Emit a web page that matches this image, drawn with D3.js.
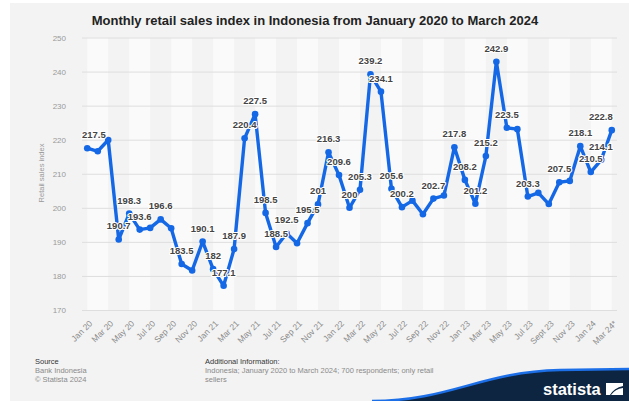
<!DOCTYPE html>
<html>
<head>
<meta charset="utf-8">
<script src="https://cdn.jsdelivr.net/npm/d3@7/dist/d3.min.js"></script>
<style>
  html, body { margin: 0; padding: 0; background: #ffffff; }
  svg { display: block; font-family: "Liberation Sans", Arial, sans-serif; }
</style>
</head>
<body>
<svg id="chart" width="629" height="401"></svg>
<script>
// Monthly retail sales index, Jan 2020 – Mar 2024
const months = [
  "Jan 20","Feb 20","Mar 20","Apr 20","May 20","Jun 20","Jul 20","Aug 20","Sep 20","Oct 20","Nov 20","Dec 20",
  "Jan 21","Feb 21","Mar 21","Apr 21","May 21","Jun 21","Jul 21","Aug 21","Sep 21","Oct 21","Nov 21","Dec 21",
  "Jan 22","Feb 22","Mar 22","Apr 22","May 22","Jun 22","Jul 22","Aug 22","Sep 22","Oct 22","Nov 22","Dec 22",
  "Jan 23","Feb 23","Mar 23","Apr 23","May 23","Jun 23","Jul 23","Aug 23","Sept 23","Oct 23","Nov 23","Dec 23",
  "Jan 24","Feb 24","Mar 24*"
];
const salesIndex = [
  217.5, 216.6, 219.9, 190.7, 198.3, 193.6, 194.1, 196.6, 194.0, 183.5, 181.6, 190.1,
  182.0, 177.1, 187.9, 220.4, 227.5, 198.5, 188.5, 192.5, 189.6, 195.5, 201.0, 216.3,
  209.6, 200.0, 205.3, 239.2, 234.1, 205.6, 200.2, 202.1, 198.1, 202.7, 203.6, 217.8,
  208.2, 201.2, 215.2, 242.9, 223.5, 223.1, 203.3, 204.4, 201.1, 207.5, 207.9, 218.1,
  210.5, 214.1, 222.8
];
// months whose value is printed next to the marker
const labelledMonths = [
  "Jan 20","Apr 20","May 20","Jun 20","Aug 20","Oct 20","Dec 20","Jan 21","Feb 21","Mar 21","Apr 21","May 21",
  "Jun 21","Jul 21","Aug 21","Oct 21","Nov 21","Dec 21","Jan 22","Feb 22","Mar 22","Apr 22","May 22","Jun 22",
  "Jul 22","Oct 22","Dec 22","Jan 23","Feb 23","Mar 23","Apr 23","May 23","Jul 23","Oct 23","Dec 23","Jan 24",
  "Feb 24","Mar 24*"
];
const xTickLabels = [
  "Jan 20","Mar 20","May 20","Jul 20","Sep 20","Nov 20","Jan 21","Mar 21","May 21","Jul 21","Sep 21","Nov 21",
  "Jan 22","Mar 22","May 22","Jul 22","Sep 22","Nov 22","Jan 23","Mar 23","May 23","Jul 23","Sept 23","Nov 23",
  "Jan 24","Mar 24*"
];
const yTicks = [170, 180, 190, 200, 210, 220, 230, 240, 250];

const data = months.map((m, i) => ({ month: m, value: salesIndex[i] }));

const svg = d3.select("#chart");
const W = 629, H = 401;
const plot = { left: 82, right: 617, top: 37.5, bottom: 310 };

// card background
svg.append("rect").attr("x", 10).attr("y", 3).attr("width", W - 10).attr("height", H - 3).attr("fill", "#f3f3f3");

const x = d3.scalePoint().domain(months).range([plot.left, plot.right]).padding(0.5);
const y = d3.scaleLinear().domain([170, 250]).range([plot.bottom, plot.top]);

// alternating column shading, two months wide
const bandStarts = months.filter((m, i) => i % 4 === 0 && i + 2 < months.length);
svg.append("g").selectAll("rect").data(bandStarts).join("rect")
  .attr("x", d => x(d))
  .attr("y", plot.top)
  .attr("width", d => x(months[months.indexOf(d) + 2]) - x(d))
  .attr("height", plot.bottom - plot.top)
  .attr("fill", "#fafafa");

// horizontal grid + y tick labels
const yAxis = d3.axisLeft(y).tickValues(yTicks).tickSize(-(plot.right - plot.left)).tickPadding(16).tickFormat(d3.format("d"));
const gy = svg.append("g").attr("transform", `translate(${plot.left},0)`).call(yAxis);
gy.select(".domain").remove();
gy.selectAll(".tick line").attr("stroke", "#dedede").attr("stroke-width", 1);
gy.selectAll(".tick text").attr("fill", "#9a9a9a").attr("font-size", 8).attr("font-family", "Liberation Sans, Arial, sans-serif");

// x tick labels, rotated
const xAxis = d3.axisBottom(x).tickValues(xTickLabels).tickSize(0).tickPadding(0);
const gx = svg.append("g").attr("transform", `translate(0,${plot.bottom})`).call(xAxis);
gx.select(".domain").remove();
gx.selectAll(".tick text")
  .attr("fill", "#8a8a8a").attr("font-size", 8.5).attr("font-family", "Liberation Sans, Arial, sans-serif")
  .attr("text-anchor", "end")
  .attr("dy", "0.35em")
  .attr("transform", "translate(3,12) rotate(-45)");

// axis title
svg.append("text")
  .attr("transform", `translate(44,173) rotate(-90)`)
  .attr("text-anchor", "middle")
  .attr("font-size", 7.5).attr("fill", "#9a9a9a")
  .text("Retail sales index");

// series line
const line = d3.line().x(d => x(d.month)).y(d => y(d.value));
svg.append("path").datum(data)
  .attr("d", line)
  .attr("fill", "none")
  .attr("stroke", "#1468e6")
  .attr("stroke-width", 3.4)
  .attr("stroke-linejoin", "round")
  .attr("stroke-linecap", "round");

svg.append("g").selectAll("circle").data(data).join("circle")
  .attr("cx", d => x(d.month)).attr("cy", d => y(d.value)).attr("r", 3.3)
  .attr("fill", "#1468e6");

// value labels
const fmt = v => (Math.round(v * 10) / 10).toString();
const labels = svg.append("g").selectAll("text")
  .data(data.filter(d => labelledMonths.includes(d.month))).join("text")
  .attr("x", d => x(d.month))
  .attr("y", d => y(d.value) - 10)
  .attr("text-anchor", "middle")
  .attr("font-size", 9.5).attr("font-weight", "bold")
  .attr("fill", "#444444")
  .attr("stroke", "#ffffff").attr("stroke-width", 2.2).attr("paint-order", "stroke")
  .attr("stroke-linejoin", "round")
  .text(d => fmt(d.value));
// keep labels inside the plot horizontally
const lastX = x(months[months.length - 1]) + 1;
labels.each(function(d) {
  const w = this.getComputedTextLength();
  let cx = x(d.month);
  if (cx - w / 2 < plot.left) cx = plot.left + w / 2;
  if (cx + w / 2 > lastX) cx = lastX - w / 2;
  d3.select(this).attr("x", cx);
});

// title
svg.append("text")
  .attr("x", 315).attr("y", 25)
  .attr("text-anchor", "middle")
  .attr("font-size", 13).attr("font-weight", "bold").attr("fill", "#222222")
  .text("Monthly retail sales index in Indonesia from January 2020 to March 2024");

// footer
const foot = svg.append("g").attr("font-size", 7.5);
foot.append("text").attr("x", 35).attr("y", 364).attr("fill", "#333333").text("Source");
foot.append("text").attr("x", 35).attr("y", 373).attr("fill", "#8a8a8a").text("Bank Indonesia");
foot.append("text").attr("x", 35).attr("y", 382).attr("fill", "#8a8a8a").text("© Statista 2024");
foot.append("text").attr("x", 205).attr("y", 364).attr("fill", "#333333").text("Additional Information:");
foot.append("text").attr("x", 205).attr("y", 373).attr("fill", "#8a8a8a").text("Indonesia; January 2020 to March 2024; 700 respondents; only retail");
foot.append("text").attr("x", 205).attr("y", 382).attr("fill", "#8a8a8a").text("sellers");

// brand mark
const logo = svg.append("g");
logo.append("path")
  .attr("d", "M372,401 C450,401 480,372 560,370 L629,369 L629,401 Z")
  .attr("fill", "#0d2540");
logo.append("path")
  .attr("d", "M372,401 C450,401 480,372 560,370 L629,369")
  .attr("fill", "none").attr("stroke", "#1d6fe8").attr("stroke-width", 2.5);
logo.append("text")
  .attr("x", 543).attr("y", 395)
  .attr("font-size", 16.5).attr("font-weight", "bold").attr("fill", "#ffffff")
  .text("statista");
logo.append("path")
  .attr("d", "M606,383 L623,383 L623,386 Q614,388 610,395 L606,395 Z M611,395 Q615,389 623,388 L623,395 Z")
  .attr("fill", "#ffffff");
</script>
</body>
</html>
